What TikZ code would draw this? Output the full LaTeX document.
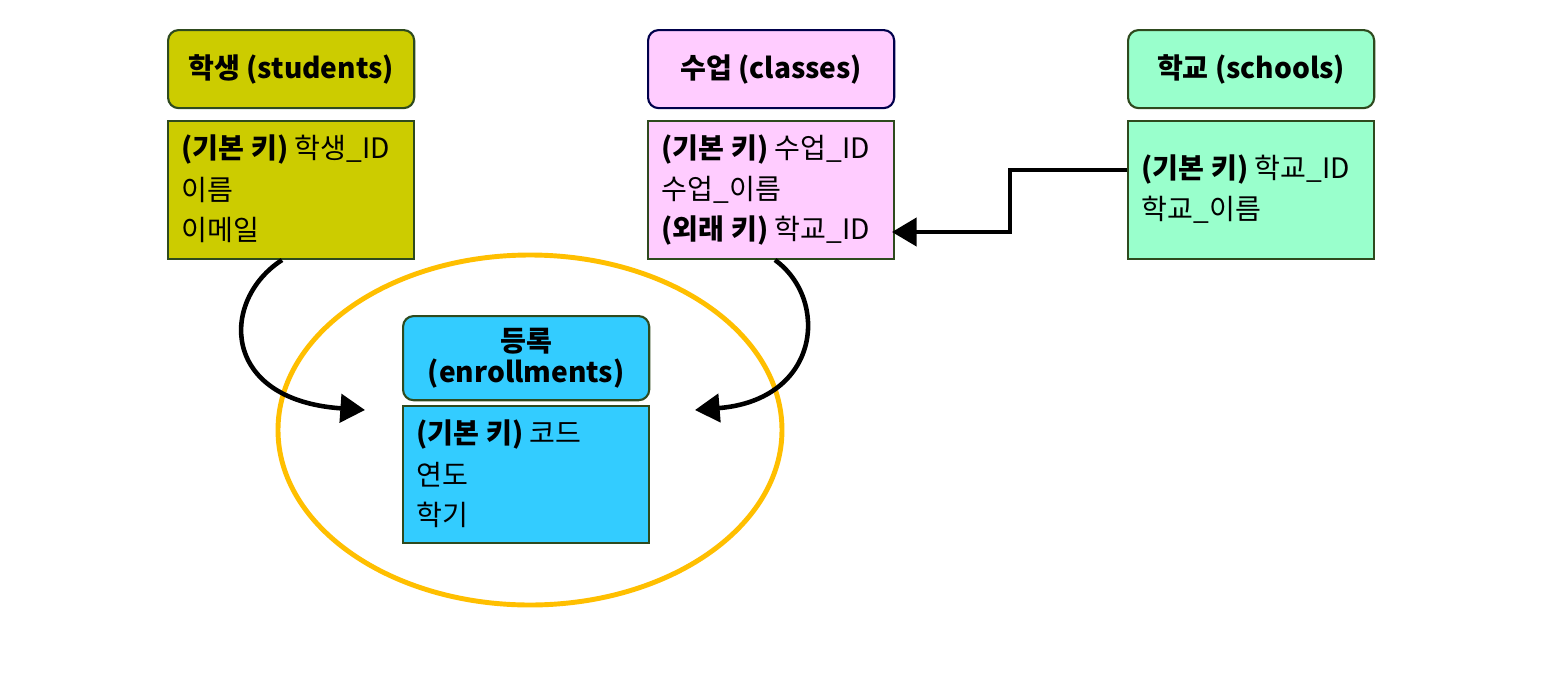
\documentclass[tikz,border=0pt]{standalone}
\usepackage{fontspec}
\setmainfont{Noto Sans CJK KR}
\usetikzlibrary{arrows.meta}
\definecolor{olive}{HTML}{CCCC00}
\definecolor{pinkc}{HTML}{FFCCFF}
\definecolor{greenc}{HTML}{99FFCC}
\definecolor{bluec}{HTML}{33CCFF}
\definecolor{ellc}{HTML}{FFBF00}
\definecolor{bord}{HTML}{2E4A1E}
\begin{document}
\begin{tikzpicture}[x=0.01cm,y=-0.01cm,
  hdr/.style={draw=bord,line width=0.6pt,rounded corners=3pt,minimum width=2.46cm,minimum height=0.78cm,font=\fontsize{8}{9}\selectfont\bfseries,align=center,anchor=north west},
  bod/.style={draw=bord,line width=0.6pt,minimum width=2.46cm,anchor=north west},
  txt/.style={anchor=west,font=\fontsize{8}{9}\selectfont,inner sep=0pt},
  arr/.style={line width=1.3pt,-{Triangle[length=7pt,width=8pt]}}]
\useasboundingbox (0,0) rectangle (1568,672);
\fill[white] (0,0) rectangle (1568,672);
\draw[ellc,line width=1.4pt] (530,430) ellipse [x radius=252, y radius=175];
% students
\node[hdr,fill=olive] (sh) at (167,29) {학생 (students)};
\node[bod,fill=olive,minimum height=1.38cm] (sb) at (167,120) {};
\node[txt] (s1) at (181,150) {\textbf{(기본 키)} 학생\_ID};
\node[txt] (s2) at (181,190) {이름};
\node[txt] (s3) at (181,230) {이메일};
% classes
\node[hdr,fill=pinkc,draw=black!70!blue] (ch) at (647,29) {수업 (classes)};
\node[bod,fill=pinkc,minimum height=1.38cm] (cb) at (647,120) {};
\node[txt] (c1) at (661,150) {\textbf{(기본 키)} 수업\_ID};
\node[txt] (c2) at (661,190) {수업\_이름};
\node[txt] (c3) at (661,230) {\textbf{(외래 키)} 학교\_ID};
% schools
\node[hdr,fill=greenc] (kh) at (1127,29) {학교 (schools)};
\node[bod,fill=greenc,minimum height=1.38cm] (kb) at (1127,120) {};
\node[txt] (k1) at (1141,170) {\textbf{(기본 키)} 학교\_ID};
\node[txt] (k2) at (1141,210) {학교\_이름};
% enrollments
\node[hdr,fill=bluec] (eh) at (402,315) {등록\\(enrollments)};
\node[bod,fill=bluec,minimum height=1.37cm] (eb) at (402,405) {};
\node[txt] (e1) at (416,435) {\textbf{(기본 키)} 코드};
\node[txt] (e2) at (416,475) {연도};
\node[txt] (e3) at (416,515) {학기};
% connectors
\coordinate (a1) at (282,260); \coordinate (a2) at (365,410);
\coordinate (b1) at (775,260); \coordinate (b2) at (695,410);
\draw[arr] (a1) .. controls (220,300) and (220,400) .. (a2);
\draw[arr] (b1) .. controls (830,300) and (820,400) .. (b2);
\coordinate (k0) at (1127,170); \coordinate (c0) at (892,232);
\draw[arr,line width=1.1pt] (k0) -- (1010,170) -- (1010,232) -- (c0);
\end{tikzpicture}
\end{document}
